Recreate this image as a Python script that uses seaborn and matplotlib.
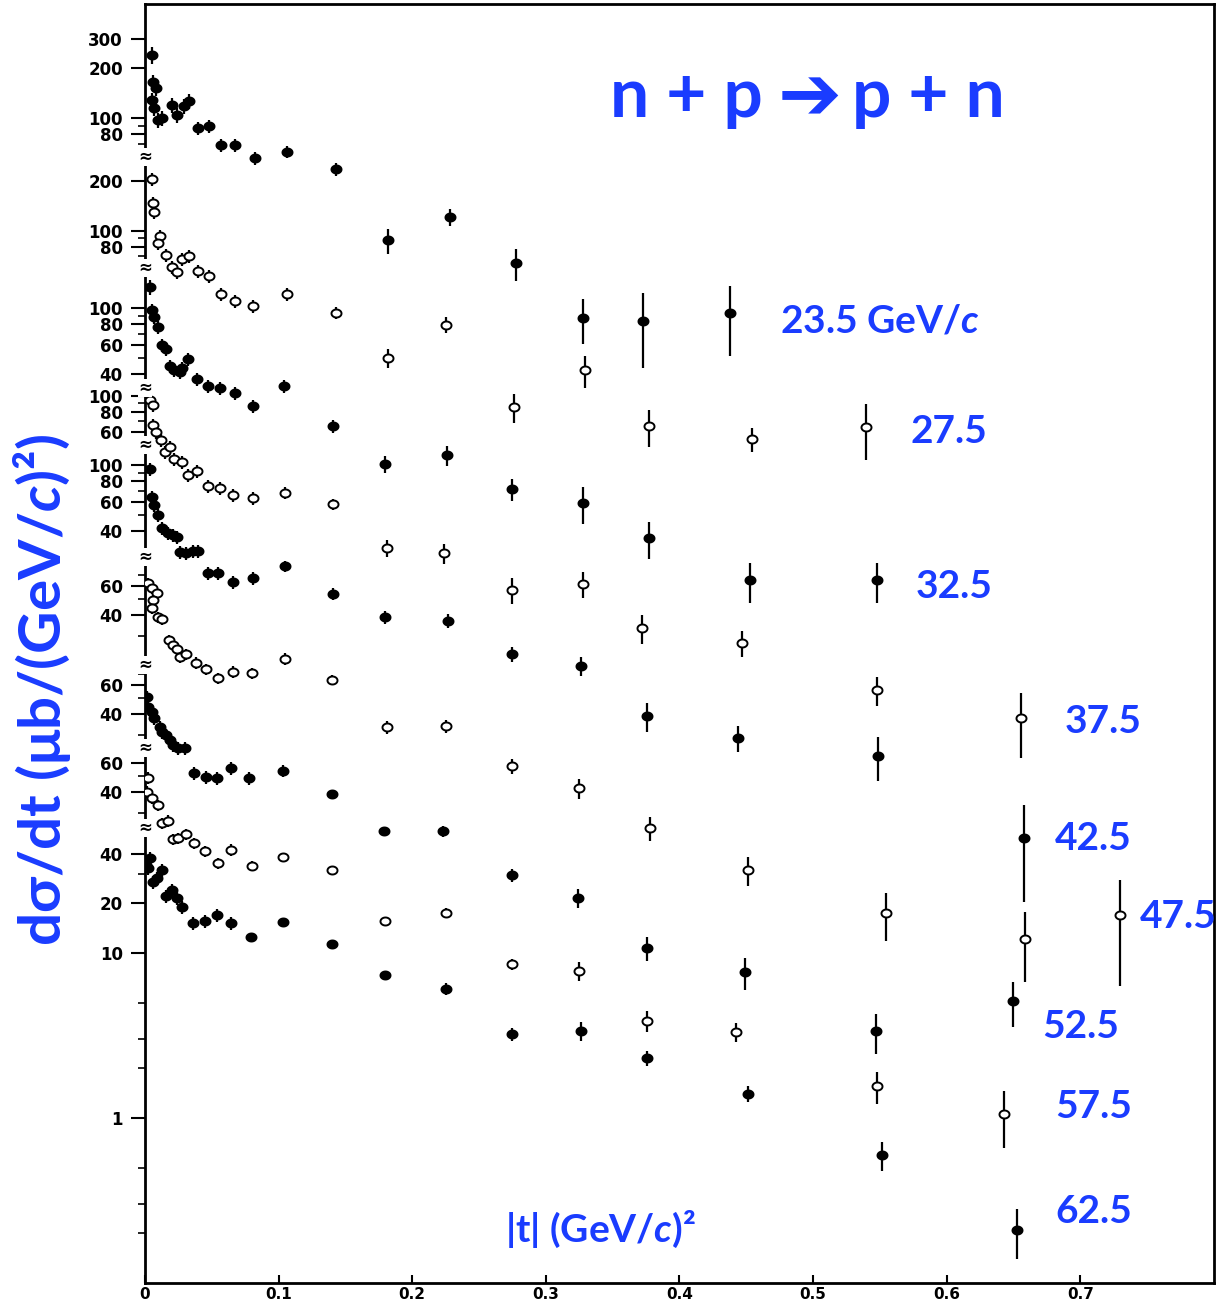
import numpy as np
import pandas as pd
import matplotlib
matplotlib.use("Agg")
import matplotlib.pyplot as plt
from matplotlib.path import Path
from matplotlib.ticker import NullFormatter
from matplotlib.transforms import blended_transform_factory
import seaborn as sns

# ---------------- data (|t| in (GeV/c)^2, dsigma/dt in ub/(GeV/c)^2, relative errors) ----------------
t_235 = [0.005, 0.006, 0.008, 0.005, 0.007, 0.010, 0.013, 0.020, 0.024, 0.029, 0.033, 0.040, 0.048, 0.057,
         0.067, 0.082, 0.106, 0.143, 0.182, 0.228, 0.278, 0.328, 0.373, 0.438]
ds_235 = [241, 166, 152, 129, 115, 97, 100, 120, 104, 118, 127, 87, 89.5, 68.7,
          68.7, 57.3, 62.4, 49.2, 18.2, 25.2, 13.2, 6.14, 5.89, 6.59]
err_235 = [0.12, 0.10, 0.10, 0.10, 0.10, 0.10, 0.10, 0.10, 0.10, 0.10, 0.10, 0.09, 0.09, 0.09,
           0.09, 0.09, 0.08, 0.09, 0.17, 0.12, 0.22, 0.30, 0.48, 0.45]

t_275 = [0.005, 0.006, 0.007, 0.011, 0.010, 0.016, 0.020, 0.024, 0.028, 0.033, 0.040, 0.048, 0.057, 0.067,
         0.081, 0.106, 0.143, 0.182, 0.225, 0.276, 0.329, 0.377, 0.454, 0.540]
ds_275 = [206, 147, 130, 92.9, 84.3, 71.3, 60.4, 56.2, 67.5, 70.3, 57.0, 53.2, 41.4, 37.6,
          35.0, 41.4, 31.8, 16.9, 26.9, 8.55, 14.3, 6.56, 5.47, 6.47]
err_275 = [0.09, 0.09, 0.09, 0.09, 0.09, 0.09, 0.09, 0.09, 0.09, 0.09, 0.09, 0.09, 0.09, 0.09,
           0.09, 0.09, 0.08, 0.13, 0.11, 0.20, 0.22, 0.25, 0.17, 0.37]

t_325 = [0.004, 0.005, 0.007, 0.010, 0.013, 0.016, 0.019, 0.022, 0.026, 0.028, 0.032, 0.039, 0.047, 0.056,
         0.067, 0.081, 0.104, 0.141, 0.180, 0.226, 0.275, 0.328, 0.377, 0.453, 0.548]
ds_325 = [134, 97.5, 88.5, 76.9, 59.8, 56.6, 44.7, 42.2, 41.0, 43.4, 49.2, 37.2, 33.7, 32.8,
          30.6, 25.5, 33.7, 19.3, 11.4, 12.9, 8.02, 6.59, 4.05, 2.25, 2.25]
err_325 = [0.10, 0.09, 0.09, 0.09, 0.09, 0.09, 0.09, 0.09, 0.09, 0.09, 0.09, 0.09, 0.09, 0.09,
           0.09, 0.09, 0.09, 0.09, 0.12, 0.14, 0.15, 0.25, 0.25, 0.27, 0.27]

t_375 = [0.004, 0.006, 0.006, 0.008, 0.012, 0.015, 0.019, 0.022, 0.028, 0.032, 0.039, 0.047, 0.056, 0.066,
         0.081, 0.105, 0.141, 0.181, 0.224, 0.275, 0.328, 0.372, 0.447, 0.548, 0.656]
ds_375 = [94.1, 87.7, 66.4, 60.3, 53.8, 45.5, 48.9, 41.3, 39.6, 33.0, 34.9, 28.3, 27.5, 25.0,
          24.0, 25.7, 22.0, 11.9, 11.1, 6.64, 7.21, 3.91, 3.17, 1.64, 1.11]
err_375 = [0.09, 0.09, 0.09, 0.09, 0.09, 0.09, 0.09, 0.09, 0.09, 0.09, 0.09, 0.09, 0.09, 0.09,
           0.09, 0.08, 0.08, 0.12, 0.14, 0.18, 0.18, 0.20, 0.18, 0.20, 0.43]

t_425 = [0.004, 0.005, 0.007, 0.010, 0.013, 0.017, 0.021, 0.024, 0.026, 0.031, 0.036, 0.040, 0.047, 0.055,
         0.066, 0.081, 0.105, 0.141, 0.180, 0.227, 0.275, 0.326, 0.376, 0.444, 0.549, 0.658]
ds_425 = [94.6, 64.1, 57.3, 49.9, 41.6, 38.7, 37.7, 36.6, 29.7, 29.3, 30.1, 30.1, 22.2, 22.2,
          19.5, 20.7, 24.4, 16.6, 12.0, 11.4, 7.16, 6.05, 3.01, 2.22, 1.73, 0.55]
err_425 = [0.09, 0.09, 0.09, 0.09, 0.09, 0.09, 0.09, 0.09, 0.09, 0.09, 0.09, 0.09, 0.09, 0.09,
           0.09, 0.09, 0.08, 0.08, 0.09, 0.10, 0.11, 0.13, 0.20, 0.18, 0.30, 0.59]

t_475 = [0.002, 0.005, 0.009, 0.006, 0.005, 0.010, 0.013, 0.018, 0.021, 0.024, 0.026, 0.031, 0.038, 0.046,
         0.055, 0.066, 0.080, 0.105, 0.140, 0.181, 0.225, 0.275, 0.325, 0.378, 0.451, 0.555, 0.659, 0.730]
ds_475 = [62.5, 58.3, 54.4, 49.3, 44.2, 38.9, 37.8, 28.2, 26.4, 24.9, 22.3, 23.2, 20.5, 18.8,
          16.6, 18.1, 17.8, 21.7, 16.2, 8.39, 8.51, 4.86, 3.58, 2.05, 1.14, 0.625, 0.436, 0.608]
err_475 = [0.08, 0.08, 0.08, 0.08, 0.08, 0.08, 0.08, 0.08, 0.08, 0.08, 0.08, 0.08, 0.08, 0.08,
           0.08, 0.08, 0.08, 0.08, 0.07, 0.09, 0.09, 0.10, 0.14, 0.17, 0.20, 0.32, 0.45, 0.63]

t_525 = [0.0015, 0.002, 0.005, 0.007, 0.011, 0.013, 0.016, 0.019, 0.021, 0.025, 0.030, 0.037, 0.046, 0.054,
         0.064, 0.078, 0.103, 0.140, 0.179, 0.223, 0.275, 0.324, 0.376, 0.449, 0.547, 0.650]
ds_525 = [50.8, 44.2, 41.2, 37.8, 33.4, 31.1, 29.9, 27.9, 26.0, 24.9, 24.9, 17.6, 16.6, 16.4,
          18.8, 16.4, 18.1, 13.1, 7.82, 7.82, 4.24, 3.07, 1.53, 1.09, 0.48, 0.73]
err_525 = [0.09, 0.09, 0.09, 0.09, 0.09, 0.09, 0.09, 0.09, 0.09, 0.09, 0.09, 0.09, 0.09, 0.09,
           0.09, 0.09, 0.08, 0.04, 0.04, 0.08, 0.09, 0.13, 0.17, 0.22, 0.27, 0.30]

t_575 = [0.002, 0.0015, 0.005, 0.010, 0.013, 0.017, 0.021, 0.025, 0.031, 0.037, 0.045, 0.055, 0.064, 0.080,
         0.103, 0.140, 0.180, 0.225, 0.275, 0.325, 0.376, 0.442, 0.548, 0.643]
ds_575 = [48.6, 40.0, 36.7, 33.3, 25.9, 26.7, 20.7, 21.0, 22.2, 19.6, 17.5, 14.8, 17.8, 14.2,
          16.1, 13.5, 6.61, 7.38, 3.62, 3.29, 1.64, 1.40, 0.66, 0.447]
err_575 = [0.08, 0.08, 0.08, 0.08, 0.08, 0.08, 0.08, 0.08, 0.08, 0.08, 0.08, 0.08, 0.08, 0.07,
           0.06, 0.04, 0.04, 0.07, 0.08, 0.13, 0.14, 0.13, 0.22, 0.38]

t_625 = [0.004, 0.001, 0.002, 0.013, 0.006, 0.009, 0.020, 0.016, 0.024, 0.028, 0.036, 0.045, 0.054, 0.064,
         0.079, 0.103, 0.140, 0.180, 0.225, 0.275, 0.326, 0.376, 0.451, 0.552, 0.653]
ds_625 = [37.6, 34.2, 32.7, 31.8, 26.9, 28.5, 24.1, 22.2, 21.5, 19.0, 15.2, 15.6, 17.0, 15.2,
          12.5, 15.4, 11.3, 7.36, 6.05, 3.23, 3.37, 2.31, 1.40, 0.597, 0.21]
err_625 = [0.09, 0.09, 0.09, 0.09, 0.09, 0.09, 0.09, 0.09, 0.09, 0.09, 0.09, 0.09, 0.09, 0.09,
           0.04, 0.04, 0.04, 0.04, 0.08, 0.09, 0.13, 0.11, 0.11, 0.20, 0.33]

momenta = ["23.5", "27.5", "32.5", "37.5", "42.5", "47.5", "52.5", "57.5", "62.5"]
open_symbol = [False, True, False, True, False, True, False, True, False]

# per-series labelled (major) and unlabelled (minor) y ticks, in each series' own units
yt_235 = [300, 200, 100, 80];  ym_235 = [90, 70, 60]
yt_275 = [200, 100, 80];       ym_275 = [90, 70, 60]
yt_325 = [100, 80, 60, 40];    ym_325 = [90, 70, 50]
yt_375 = [100, 80, 60];        ym_375 = [90, 70]
yt_425 = [100, 80, 60, 40];    ym_425 = [90, 70, 50, 30]
yt_475 = [60, 40];             ym_475 = [80, 70, 50, 30]
yt_525 = [60, 40];             ym_525 = [70, 50, 30]
yt_575 = [60, 40];             ym_575 = [50, 30]
yt_625 = [40, 20, 10, 1];      ym_625 = [30, 5, 3, 2, 0.5, 0.3, 0.2]

x_ticks = [0, 0.1, 0.2, 0.3, 0.4, 0.5, 0.6, 0.7]
x_tick_labels = ["0", "0.1", "0.2", "0.3", "0.4", "0.5", "0.6", "0.7"]

# ---------------- layout / style ----------------
stack_shift = [4.06, 3.377, 2.908, 2.378, 1.957, 1.446, 0.846, 0.374, 0.0]   # vertical offset in decades
break_pos = [6.67e5, 1.42e5, 2.66e4, 1.2e4, 2512, 556, 175, 57.3]           # axis-break marks (plot units)

series_t = [t_235, t_275, t_325, t_375, t_425, t_475, t_525, t_575, t_625]
series_ds = [ds_235, ds_275, ds_325, ds_375, ds_425, ds_475, ds_525, ds_575, ds_625]
series_err = [err_235, err_275, err_325, err_375, err_425, err_475, err_525, err_575, err_625]
series_yt = [yt_235, yt_275, yt_325, yt_375, yt_425, yt_475, yt_525, yt_575, yt_625]
series_ym = [ym_235, ym_275, ym_325, ym_375, ym_425, ym_475, ym_525, ym_575, ym_625]

rows = []
for p, sh, tt, dd, ee in zip(momenta, stack_shift, series_t, series_ds, series_err):
    for a, b, c in zip(tt, dd, ee):
        rows.append(dict(p=p, t=a, dsdt=b, rel=c, y=b * 10 ** sh))
df = pd.DataFrame(rows)

sns.set_theme(style="ticks")
plt.rcParams['font.family'] = ['DejaVu Sans']
plt.rcParams['mathtext.fontset'] = 'custom'
plt.rcParams['mathtext.it'] = 'Lato:italic:bold'
plt.rcParams['mathtext.rm'] = 'Lato:bold'
plt.rcParams['mathtext.bf'] = 'Lato:bold'

W, H = 1219, 1304
fig = plt.figure(figsize=(W / 100, H / 100), dpi=100)
fig.patch.set_facecolor('white')
ax = fig.add_axes([145 / W, 21 / H, 1068.8 / W, 1278.75 / H])
ax.set_facecolor('white')
ax.set_yscale('log')

ang = np.linspace(0, 2 * np.pi, 41)
ellipse = Path(np.column_stack([np.cos(ang), 0.8 * np.sin(ang)]), closed=True)

for p, is_open in zip(momenta, open_symbol):
    sub = df[df.p == p]
    ax.errorbar(sub.t, sub.y, yerr=sub.y * sub.rel, fmt='none', ecolor='black',
                elinewidth=1.6, capsize=0, zorder=2)
    sns.scatterplot(data=sub, x='t', y='y', marker=ellipse, s=52,
                    color='white' if is_open else 'black', edgecolor='black',
                    linewidth=1.4, ax=ax, legend=False, zorder=3)

ax.set_xlim(0, 0.8)
ax.set_ylim(0.1, 10 ** 6.75)
ax.set_xlabel('')
ax.set_ylabel('')

maj_pos, maj_lab, min_pos = [], [], []
for sh, yt, ym in zip(stack_shift, series_yt, series_ym):
    for v in yt:
        maj_pos.append(v * 10 ** sh)
        maj_lab.append(f"{v:g}")
    for v in ym:
        min_pos.append(v * 10 ** sh)
ax.set_yticks(maj_pos, maj_lab)
ax.set_yticks(min_pos, minor=True)
ax.yaxis.set_minor_formatter(NullFormatter())
ax.set_xticks(x_ticks, x_tick_labels)

ax.tick_params(axis='y', which='major', direction='out', length=10, width=1.5,
               labelsize=12, pad=6, color='black', labelcolor='black', left=True)
ax.tick_params(axis='y', which='minor', direction='out', length=5, width=1.2, color='black', left=True)
ax.tick_params(axis='x', which='major', direction='in', length=6, width=1.5,
               labelsize=11, pad=3, color='black', labelcolor='black', bottom=True)
ax.tick_params(axis='x', which='minor', length=0)
for lab in ax.get_xticklabels() + ax.get_yticklabels():
    lab.set_fontweight('bold')
for s in ax.spines.values():
    s.set_linewidth(2)
    s.set_color('black')
    s.set_visible(True)

trans = blended_transform_factory(ax.transAxes, ax.transData)
for yb in break_pos:
    ax.text(0, yb, "\u2248", transform=trans, ha='center', va='center', fontsize=12,
            fontweight='bold', color='black', clip_on=False, zorder=6,
            bbox=dict(boxstyle='square,pad=0.02', fc='white', ec='none'))

blue = '#1a3cff'
fam = ['Lato', 'DejaVu Sans']


def fx(x):
    return x / W


def fy(y):
    return 1 - y / H


# title in three pieces so the heavy arrow can come from DejaVu Sans
fig.text(fx(610), fy(117), "n + p", ha='left', va='baseline', fontsize=50,
         fontweight='bold', color=blue, family=fam)
fig.text(fx(810), fy(98), "\u2794", ha='center', va='center', fontsize=55,
         fontweight='bold', color=blue, family=['DejaVu Sans'])
fig.text(fx(1005), fy(117), "p + n", ha='right', va='baseline', fontsize=50,
         fontweight='bold', color=blue, family=fam)

fig.text(fx(780), fy(332), r"23.5 GeV/$\mathit{c}$", ha='left', va='baseline', fontsize=28,
         fontweight='bold', color=blue, family=fam)
labels = [("27.5", 910, 443), ("32.5", 916, 598), ("37.5", 1065, 733), ("42.5", 1055, 850),
          ("47.5", 1140, 928), ("52.5", 1042, 1038), ("57.5", 1055, 1118), ("62.5", 1055, 1223)]
for txt, x, y in labels:
    fig.text(fx(x), fy(y), txt, ha='left', va='baseline', fontsize=28, fontweight='bold',
             color=blue, family=fam)
fig.text(fx(505), fy(1242), r"|t| (GeV/$\mathit{c}$)²", ha='left', va='baseline', fontsize=28,
         fontweight='bold', color=blue, family=fam)
fig.text(fx(42), fy(690), r"dσ/dt (μb/(GeV/$\mathit{c}$)²)", ha='center', va='center',
         rotation=90, fontsize=42, fontweight='bold', color=blue, family=fam)

fig.savefig("out.png", dpi=100, facecolor='white')
